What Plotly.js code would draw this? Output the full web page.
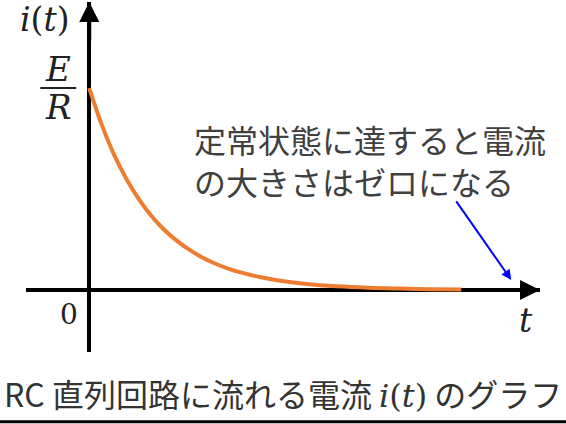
<!DOCTYPE html>
<html>
<head>
<meta charset="utf-8">
<script src="https://cdn.plot.ly/plotly-3.0.1.min.js"></script>
<style>
  html, body { margin: 0; padding: 0; background: #fff; }
  #graph_area { width: 566px; height: 424px; }
</style>
</head>
<body>
<div id="graph_area"></div>
<script>
// time in units of RC, current in units of E/R
const tVals = [0, 0.2, 0.4, 0.6, 0.8, 1, 1.2, 1.4, 1.6, 1.8, 2, 2.25, 2.5, 2.75, 3, 3.5, 4, 4.5, 5, 5.5, 6];
const iVals = [1, 0.82, 0.67, 0.55, 0.45, 0.368, 0.301, 0.247, 0.202, 0.165, 0.135, 0.105, 0.082, 0.064, 0.05, 0.03, 0.018, 0.011, 0.007, 0.004, 0.0025];

const yLabel = "<i>i</i>(<i>t</i>)";
const xLabel = "<i>t</i>";
const fracTop = "<i>E</i>";
const fracBottom = "<i>R</i>";
const originLabel = "0";
const noteText = "定常状態に達すると電流<br>の大きさはゼロになる";
const captionText = "RC 直列回路に流れる電流 <span style=\"font-family:DejaVu Serif\"><i>i</i>(<i>t</i>)</span> のグラフ";

const xRange = [-1.02, 7.27];
const yRange = [-0.307, 1.426];

const mathFont = { family: "DejaVu Serif", color: "#222" };

window.onload = () => {
    const layout = {
        width: 566,
        height: 424,
        margin: { l: 26, r: 26, t: 2, b: 72 },
        paper_bgcolor: "#fff",
        plot_bgcolor: "#fff",
        showlegend: false,
        xaxis: {
            range: xRange, showgrid: false, showticklabels: false, ticks: "",
            showline: false, zeroline: true, zerolinecolor: "#000", zerolinewidth: 4,
        },
        yaxis: {
            range: yRange, showgrid: false, showticklabels: false, ticks: "",
            showline: false, zeroline: true, zerolinecolor: "#000", zerolinewidth: 4,
        },
        shapes: [
            // fraction bar of E/R
            { type: "line", xref: "x", yref: "y", x0: -0.79, x1: -0.21, y0: 1, y1: 1,
              line: { color: "#222", width: 2 } },
            // caption underline
            { type: "line", xref: "paper", yref: "paper", x0: -0.06, x1: 1.06, y0: -0.199, y1: -0.199,
              line: { color: "#000", width: 3 } },
        ],
        annotations: [
            // axis arrowheads
            { x: 0, y: yRange[1], ax: 0, ay: 40, xref: "x", yref: "y", text: "",
              showarrow: true, arrowhead: 2, arrowwidth: 4, arrowsize: 1, arrowcolor: "#000", standoff: 0 },
            { x: xRange[1], y: 0, ax: -40, ay: 0, xref: "x", yref: "y", text: "",
              showarrow: true, arrowhead: 2, arrowwidth: 4, arrowsize: 1, arrowcolor: "#000", standoff: 0 },
            // axis labels
            { x: -0.71, y: 1.337, xref: "x", yref: "y", text: yLabel, showarrow: false,
              font: Object.assign({ size: 33 }, mathFont) },
            { x: 7.05, y: -0.15, xref: "x", yref: "y", text: xLabel, showarrow: false,
              font: Object.assign({ size: 33 }, mathFont) },
            { x: 0.5 * (-0.79 - 0.21), y: 1.095, xref: "x", yref: "y", text: fracTop, showarrow: false,
              font: Object.assign({ size: 34 }, mathFont) },
            { x: 0.5 * (-0.79 - 0.21), y: 0.905, xref: "x", yref: "y", text: fracBottom, showarrow: false,
              font: Object.assign({ size: 34 }, mathFont) },
            { x: -0.32, y: -0.12, xref: "x", yref: "y", text: originLabel, showarrow: false,
              font: Object.assign({ size: 28 }, mathFont) },
            // note and its blue arrow
            { x: 1.66, y: 0.645, xref: "x", yref: "y", xanchor: "left", yanchor: "middle", align: "left",
              text: noteText, showarrow: false,
              font: { family: "Noto Sans CJK JP", size: 32, color: "#404040" } },
            { x: 6.806, y: 0.05, ax: -56, ay: -80, xref: "x", yref: "y", text: "",
              showarrow: true, arrowhead: 2, arrowwidth: 2, arrowsize: 1, arrowcolor: "#0000ff", standoff: 0 },
            // caption
            { x: 0.5, y: -0.118, xref: "paper", yref: "paper", yanchor: "middle", text: captionText, showarrow: false,
              font: { family: "Noto Sans CJK JP", size: 32, color: "#333" } },
        ],
    };

    Plotly.newPlot("graph_area", [{
        x: tVals,
        y: iVals,
        mode: "lines",
        type: "scatter",
        line: { color: "#ED7D31", width: 4, shape: "spline" },
        hoverinfo: "skip",
    }], layout, { staticPlot: true, displayModeBar: false });
};
</script>
</body>
</html>
